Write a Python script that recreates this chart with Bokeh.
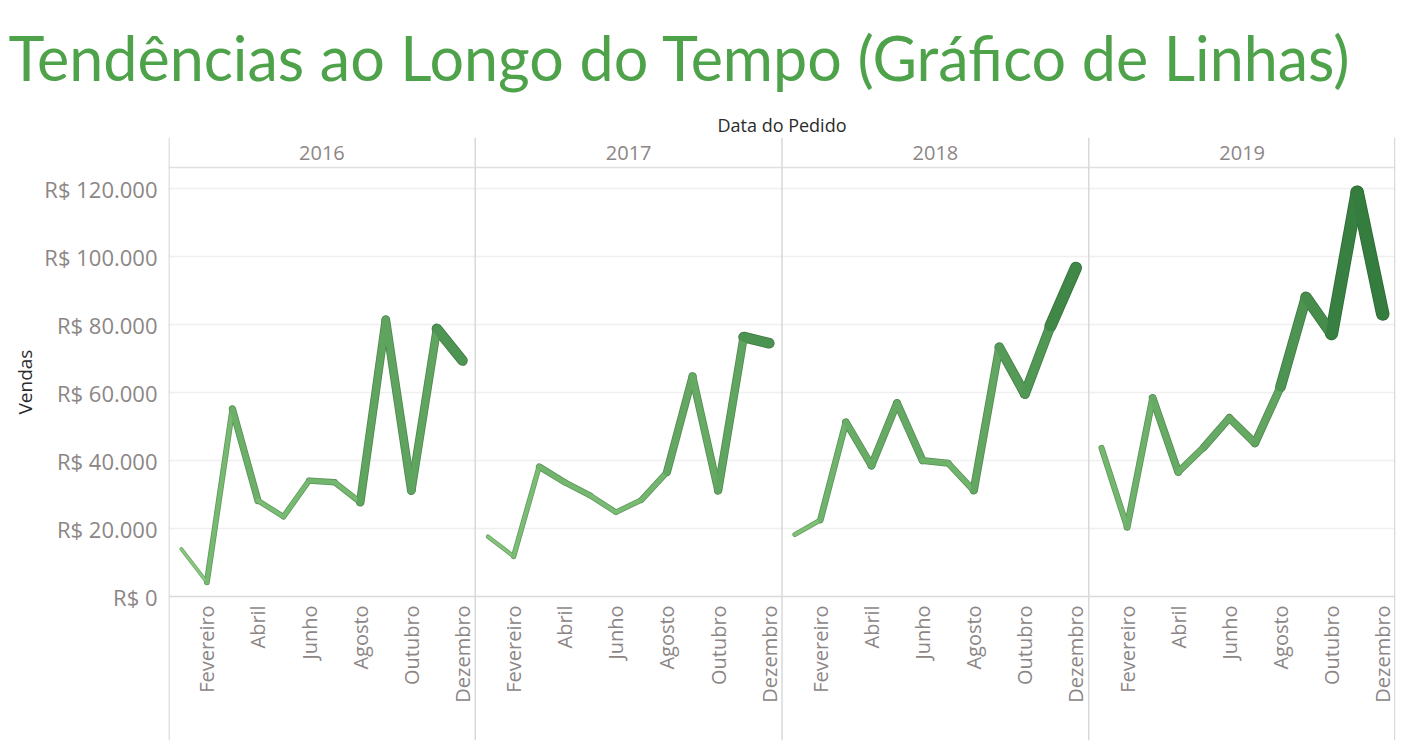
import numpy as np
from math import pi
from bokeh.plotting import figure
from bokeh.models import Span, FixedTicker, Title, ColumnDataSource, Range1d
from bokeh.core.properties import value
from bokeh.embed import file_html
from bokeh.resources import INLINE

# ---------------- data ----------------
years = ["2016", "2017", "2018", "2019"]
months = ["Janeiro", "Fevereiro", "Março", "Abril", "Maio", "Junho",
          "Julho", "Agosto", "Setembro", "Outubro", "Novembro", "Dezembro"]
month_numbers = list(range(1, 13))
shown_months = [2, 4, 6, 8, 10, 12]

sales_2016 = [14000, 4200, 55200, 28200, 23500, 34100, 33600, 27700, 81400, 31200, 78700, 69400]
sales_2017 = [17600, 11800, 38200, 33600, 29700, 24800, 28400, 36600, 64700, 31200, 76300, 74500]
sales_2018 = [18200, 22500, 51300, 38500, 56900, 40000, 39200, 31200, 73300, 59600, 79500, 96700]
sales_2019 = [43700, 20400, 58400, 36600, 43900, 52500, 45100, 61600, 88000, 77300, 118900, 83100]
sales_by_year = [sales_2016, sales_2017, sales_2018, sales_2019]

y_ticks = [0, 20000, 40000, 60000, 80000, 100000, 120000]
y_tick_labels = ["R$ 0", "R$ 20.000", "R$ 40.000", "R$ 60.000",
                 "R$ 80.000", "R$ 100.000", "R$ 120.000"]

title_text = "Tendências ao Longo do Tempo (Gráfico de Linhas)"
x_title = "Data do Pedido"
y_title = "Vendas"

# ---------------- styling helpers ----------------
LOW = np.array([146, 210, 134])
HIGH = np.array([36, 110, 50])
FONT = "Open Sans"


def shade(v, k=1.0):
    t = min(max(v / 120000.0, 0.0), 1.0)
    c = (LOW + (HIGH - LOW) * t) * k
    c = np.clip(c, 0, 255).astype(int)
    return "#%02x%02x%02x" % tuple(c)


def width_for(v):
    return 1.2 + v / 9500.0


# ---------------- figure ----------------
p = figure(width=1413, height=752,
           x_range=Range1d(0.5, 48.5), y_range=Range1d(-42350, 135000),
           output_backend="svg", toolbar_location=None, title=None,
           min_border_left=168, min_border_right=18,
           min_border_top=137, min_border_bottom=12)
p.outline_line_color = None
p.background_fill_color = "white"
p.border_fill_color = "white"

p.xaxis.visible = False
p.xgrid.visible = False

yax = p.yaxis[0]
yax.ticker = FixedTicker(ticks=y_ticks)
yax.major_label_overrides = {t: l for t, l in zip(y_ticks, y_tick_labels)}
yax.axis_line_color = None
yax.major_tick_line_color = None
yax.minor_tick_line_color = None
yax.major_tick_out = 0
yax.major_tick_in = 0
yax.major_label_text_font = FONT
yax.major_label_text_font_size = "22px"
yax.major_label_text_color = "#8c8686"
yax.major_label_standoff = 11

p.ygrid.ticker = FixedTicker(ticks=y_ticks[1:])
p.ygrid.grid_line_color = "#efefef"
p.ygrid.grid_line_width = 1.5

# y-axis title, placed on the value area like the reference
p.add_layout(Title(text=y_title, align="left", offset=326, text_font=FONT,
                   text_font_style="normal", text_font_size="19px",
                   text_color="#2b2b2b", standoff=8), "left")

# frame lines
p.add_layout(Span(location=0, dimension="width", line_color="#d9d9d9", line_width=1.5))
p.add_layout(Span(location=126200, dimension="width", line_color="#e0e0e0", line_width=1.5))
for xv in [0.52, 12.5, 24.5, 36.5, 48.47]:
    p.add_layout(Span(location=xv, dimension="height", line_color="#d9d9d9", line_width=1.5))

# ---------------- lines ----------------
x0, y0, x1, y1, ws, wo, cs, co = [], [], [], [], [], [], [], []
for i, sales in enumerate(sales_by_year):
    xs = [12 * i + m for m in month_numbers]
    for j in range(len(sales) - 1):
        va, vb = sales[j], sales[j + 1]
        avg = (va + vb) / 2.0
        x0.append(xs[j]); y0.append(va)
        x1.append(xs[j + 1]); y1.append(vb)
        ws.append(width_for(avg))
        wo.append(width_for(avg) + 1.6)
        cs.append(shade(avg))
        co.append(shade(avg, 0.82))

seg_src = ColumnDataSource(dict(x0=x0, y0=y0, x1=x1, y1=y1, w=ws, wo=wo, c=cs, co=co))
p.segment(x0="x0", y0="y0", x1="x1", y1="y1", source=seg_src,
          line_width="wo", line_color="co", line_cap="round", line_join="round")
p.segment(x0="x0", y0="y0", x1="x1", y1="y1", source=seg_src,
          line_width="w", line_color="c", line_cap="round", line_join="round")

# ---------------- headers & month labels ----------------
p.text(x=[12 * i + 6.5 for i in range(len(years))], y=[130300] * len(years), text=years,
       text_align="center", text_baseline="middle", text_font=value(FONT),
       text_font_size="20px", text_color="#8c8686")

mx, mt = [], []
for i in range(len(years)):
    for m in shown_months:
        mx.append(12 * i + m)
        mt.append(months[m - 1])
p.text(x=mx, y=[-2600] * len(mx), text=mt, angle=pi / 2,
       text_align="right", text_baseline="middle", text_font=value(FONT),
       text_font_size="20px", text_color="#8c8686")

# ---------------- titles ----------------
p.add_layout(Title(text=x_title, align="center", text_font=FONT, text_font_style="normal",
                   text_font_size="18px", text_color="#2b2b2b", standoff=1), "above")
p.add_layout(Title(text=title_text, align="left", offset=-160, text_font="Lato",
                   text_font_style="normal", text_font_size="61px",
                   text_color="#4ea24a", standoff=33), "above")

open("out.html", "w").write(file_html(p, INLINE))
